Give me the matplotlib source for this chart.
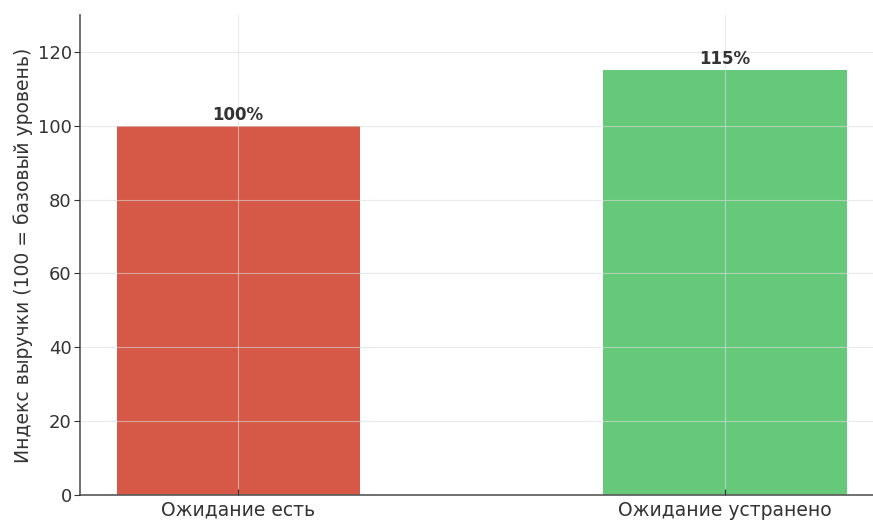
import matplotlib
matplotlib.use('Agg')
import matplotlib.pyplot as plt

# data
categories = ['Ожидание есть', 'Ожидание устранено']
values     = [100, 115]
labels     = ['100%', '115%']
colors     = ['#d65846', '#66c97a']

fig = plt.figure(figsize=(8.73, 5.2), dpi=100)
ax  = fig.add_axes([80/873., 25/520., 803/873., 480/520.])

x = range(len(categories))
bars = ax.bar(x, values, width=0.5, color=colors)
for xi, v, lab in zip(x, values, labels):
    ax.text(xi, v + 0.6, lab, ha='center', va='bottom',
            fontsize=12, fontweight='bold', color='#333333')

ax.set_xticks(list(x))
ax.set_xticklabels(categories, fontsize=13.5, color='#333333')
ax.set_xlim(-0.325, 1.325)
ax.set_ylim(0, 130)
ax.set_yticks([0, 20, 40, 60, 80, 100, 120])
ax.tick_params(axis='y', labelsize=13, colors='#333333', length=4, pad=2)
ax.tick_params(axis='x', direction='in', length=4, colors='#333333', pad=4)
ax.set_ylabel('Индекс выручки (100 = базовый уровень)', fontsize=13.5,
              color='#333333', labelpad=3)

ax.grid(True, color='#dddddd', linewidth=0.8, alpha=0.6)
ax.set_axisbelow(False)
for s in ['top', 'right']:
    ax.spines[s].set_visible(False)
for s in ['left', 'bottom']:
    ax.spines[s].set_color('#555555')
    ax.spines[s].set_linewidth(1.2)

plt.savefig('out.png', dpi=100)
plt.close()
